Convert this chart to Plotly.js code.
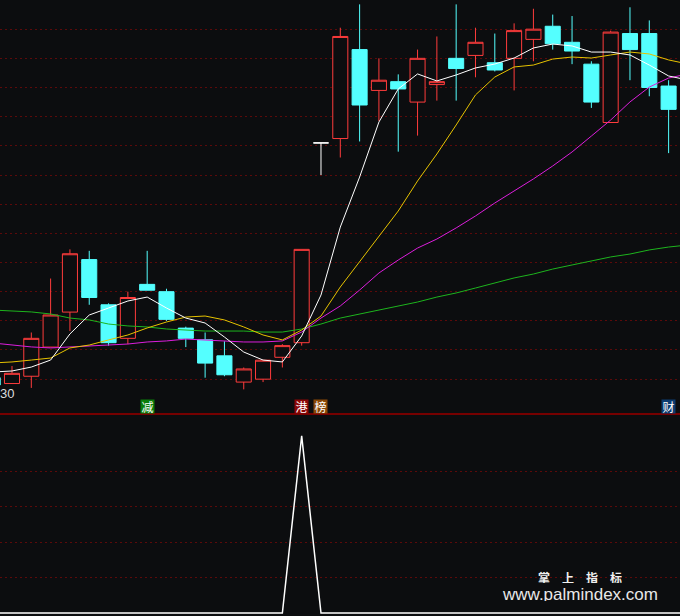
<!DOCTYPE html>
<html>
<head>
<meta charset="utf-8">
<script src="https://cdn.plot.ly/plotly-3.0.1.min.js"></script>
<style>
html,body{margin:0;padding:0;background:#0c0d0f;}
#chart{width:680px;height:616px;}
</style>
</head>
<body>
<div id="chart"></div>
<script>
// candle index (-1 is the partly visible candle at the left edge)
var candleIdx = [-1,0,1,2,3,4,5,6,7,8,9,10,11,12,13,14,15,16,17,18,19,20,21,22,23,24,25,26,27,28,29,30,31,32,33,34];
var openP  = [8.21,8.17,8.22,8.42,8.66,9.02,8.71,8.48,8.85,8.80,8.55,8.47,8.36,8.18,8.20,8.35,8.45,9.82,9.85,10.46,10.18,10.24,10.10,10.22,10.40,10.42,10.37,10.40,10.53,10.62,10.51,10.36,9.96,10.57,10.57,10.21];
var highP  = [8.24,8.29,8.52,8.89,9.09,9.08,8.72,8.80,9.08,8.82,8.56,8.52,8.46,8.28,8.33,8.44,9.09,9.82,10.61,10.77,10.40,10.29,10.46,10.55,10.77,10.61,10.57,10.64,10.74,10.70,10.69,10.38,10.59,10.75,10.66,10.25];
var lowP   = [8.14,8.17,8.14,8.42,8.53,8.71,8.43,8.44,8.81,8.60,8.42,8.21,8.22,8.13,8.18,8.28,8.43,9.60,9.72,9.83,9.97,9.76,9.87,10.11,10.11,10.27,10.31,10.18,10.38,10.46,10.36,10.06,9.96,10.25,10.14,9.75];
var closeP = [8.16,8.24,8.48,8.64,9.06,8.76,8.45,8.76,8.81,8.61,8.48,8.31,8.23,8.27,8.33,8.43,9.09,9.82,10.55,10.08,10.25,10.19,10.40,10.24,10.33,10.51,10.32,10.59,10.60,10.50,10.45,10.10,10.58,10.46,10.20,10.05];

// moving averages, index -1 .. 35
var maIdx = [-1,0,1,2,3,4,5,6,7,8,9,10,11,12,13,14,15,16,17,18,19,20,21,22,23,24,25,26,27,28,29,30,31,32,33,34,35];
var maWhite   = [8.249,8.256,8.283,8.331,8.510,8.640,8.688,8.736,8.763,8.688,8.619,8.585,8.489,8.386,8.331,8.318,8.496,8.777,9.243,9.586,9.963,10.190,10.293,10.245,10.286,10.334,10.361,10.402,10.471,10.498,10.485,10.443,10.443,10.423,10.354,10.279,10.251];
var maYellow  = [8.311,8.318,8.331,8.345,8.414,8.434,8.469,8.503,8.551,8.592,8.626,8.633,8.606,8.558,8.503,8.469,8.537,8.633,8.832,9.003,9.175,9.353,9.559,9.744,9.943,10.149,10.272,10.341,10.354,10.395,10.409,10.402,10.423,10.443,10.430,10.389,10.361];
var maMagenta = [8.448,8.434,8.421,8.414,8.421,8.427,8.434,8.441,8.455,8.462,8.475,8.469,8.462,8.455,8.455,8.462,8.523,8.619,8.702,8.811,8.928,9.017,9.099,9.161,9.237,9.319,9.408,9.490,9.573,9.662,9.758,9.867,9.977,10.101,10.203,10.265,10.293];
var maGreen   = [8.674,8.667,8.661,8.647,8.619,8.606,8.578,8.565,8.558,8.544,8.537,8.530,8.530,8.530,8.523,8.523,8.544,8.578,8.619,8.647,8.674,8.702,8.729,8.763,8.791,8.825,8.859,8.894,8.921,8.955,8.983,9.010,9.038,9.058,9.086,9.106,9.120];

// lower indicator
var signal = [0,0,0,0,0,0,0,0,0,0,0,0,0,0,0,0,100,0,0,0,0,0,0,0,0,0,0,0,0,0,0,0,0,0,0,0,0];

// event markers
var markIdx   = [7, 15, 16, 34];
var markText  = ['减', '港', '榜', '财'];
var markColor = ['#0a7d0a', '#8a0606', '#8a4806', '#0c3c70'];

var BG = '#0c0d0f';

// split regular candles and doji (open == close)
var reg = {x:[],o:[],h:[],l:[],c:[]}, doji = {x:[],o:[],h:[],l:[],c:[]};
for (var i = 0; i < candleIdx.length; i++) {
  var t = (openP[i] === closeP[i]) ? doji : reg;
  t.x.push(candleIdx[i]); t.o.push(openP[i]); t.h.push(highP[i]); t.l.push(lowP[i]); t.c.push(closeP[i]);
}

var traces = [
  {type:'candlestick', x:reg.x, open:reg.o, high:reg.h, low:reg.l, close:reg.c,
   xaxis:'x', yaxis:'y', whiskerwidth:0, hoverinfo:'skip', showlegend:false,
   increasing:{line:{color:'#ff3c3c', width:1}, fillcolor:BG},
   decreasing:{line:{color:'#54ffff', width:1}, fillcolor:'#54ffff'}},
  {type:'candlestick', x:doji.x, open:doji.o, high:doji.h, low:doji.l, close:doji.c,
   xaxis:'x', yaxis:'y', whiskerwidth:0, hoverinfo:'skip', showlegend:false,
   increasing:{line:{color:'#ffffff', width:1}, fillcolor:BG},
   decreasing:{line:{color:'#ffffff', width:1}, fillcolor:BG}},
  {type:'scatter', mode:'lines', x:maIdx, y:maGreen, line:{color:'#1db41d', width:1}, xaxis:'x', yaxis:'y', hoverinfo:'skip', showlegend:false},
  {type:'scatter', mode:'lines', x:maIdx, y:maMagenta, line:{color:'#dc1edc', width:1}, xaxis:'x', yaxis:'y', hoverinfo:'skip', showlegend:false},
  {type:'scatter', mode:'lines', x:maIdx, y:maYellow, line:{color:'#e6c200', width:1}, xaxis:'x', yaxis:'y', hoverinfo:'skip', showlegend:false},
  {type:'scatter', mode:'lines', x:maIdx, y:maWhite, line:{color:'#ffffff', width:1}, xaxis:'x', yaxis:'y', hoverinfo:'skip', showlegend:false},
  {type:'scatter', mode:'lines', x:maIdx, y:signal, line:{color:'#ffffff', width:1.5}, xaxis:'x2', yaxis:'y2', hoverinfo:'skip', showlegend:false}
];

var split = 202/616;
var xr = [-0.621, 34.59];
var grid = {gridcolor:'#5c0a0a', griddash:'2px,3px', gridwidth:1};

var annotations = [];
for (var k = 0; k < markIdx.length; k++) {
  annotations.push({x:markIdx[k], xref:'x', xanchor:'center', y:1-406.5/616, yref:'paper', yanchor:'middle',
    text:markText[k], showarrow:false, bgcolor:markColor[k], borderpad:0, width:13, height:13,
    font:{family:'Noto Sans CJK SC', size:12, color:'#ffffff'}});
}
annotations.push({x:0, xref:'paper', xanchor:'left', xshift:-2, y:1-393.5/616, yref:'paper', yanchor:'middle', text:'30',
  showarrow:false, font:{family:'Liberation Sans', size:13, color:'#dcdcdc'}});
annotations.push({x:580/680, xref:'paper', xanchor:'center', y:1-577/616, yref:'paper', yanchor:'middle',
  text:'<b>掌\u3000上\u3000指\u3000标</b>', height:12,
  showarrow:false, font:{family:'Noto Sans CJK SC', size:12, color:'#f0f0f0'}});
annotations.push({x:580/680, xref:'paper', xanchor:'center', y:1-593.5/616, yref:'paper', yanchor:'middle',
  text:'www.palmindex.com', height:14,
  showarrow:false, font:{family:'Liberation Sans', size:17, color:'#e8e8e8'}});

var layout = {
  width:680, height:616,
  margin:{l:0, r:0, t:0, b:0, pad:0},
  paper_bgcolor:BG, plot_bgcolor:BG,
  showlegend:false,
  boxgap:0.22, boxgroupgap:0,
  xaxis:{domain:[0,1], range:xr, anchor:'y', showgrid:false, zeroline:false, showticklabels:false, showline:false, rangeslider:{visible:false}, fixedrange:true},
  yaxis:Object.assign({domain:[split,1], range:[7.9611, 10.8], tickvals:[8.2,8.4,8.6,8.8,9.0,9.2,9.4,9.6,9.8,10.0,10.2,10.4,10.6], showticklabels:false, zeroline:false, showline:false, fixedrange:true}, grid),
  xaxis2:{domain:[0,1], range:xr, anchor:'y2', showgrid:false, zeroline:false, showticklabels:false, showline:false, fixedrange:true},
  yaxis2:Object.assign({domain:[0,split], range:[-1.69, 112.4], tickvals:[20,40,60,80], showticklabels:false, zeroline:false, showline:false, fixedrange:true}, grid),
  shapes:[{type:'line', xref:'paper', yref:'paper', x0:0, x1:1, y0:split, y1:split, line:{color:'#760000', width:2}}],
  annotations:annotations
};

Plotly.newPlot('chart', traces, layout, {displayModeBar:false, staticPlot:true});
</script>
</body>
</html>
